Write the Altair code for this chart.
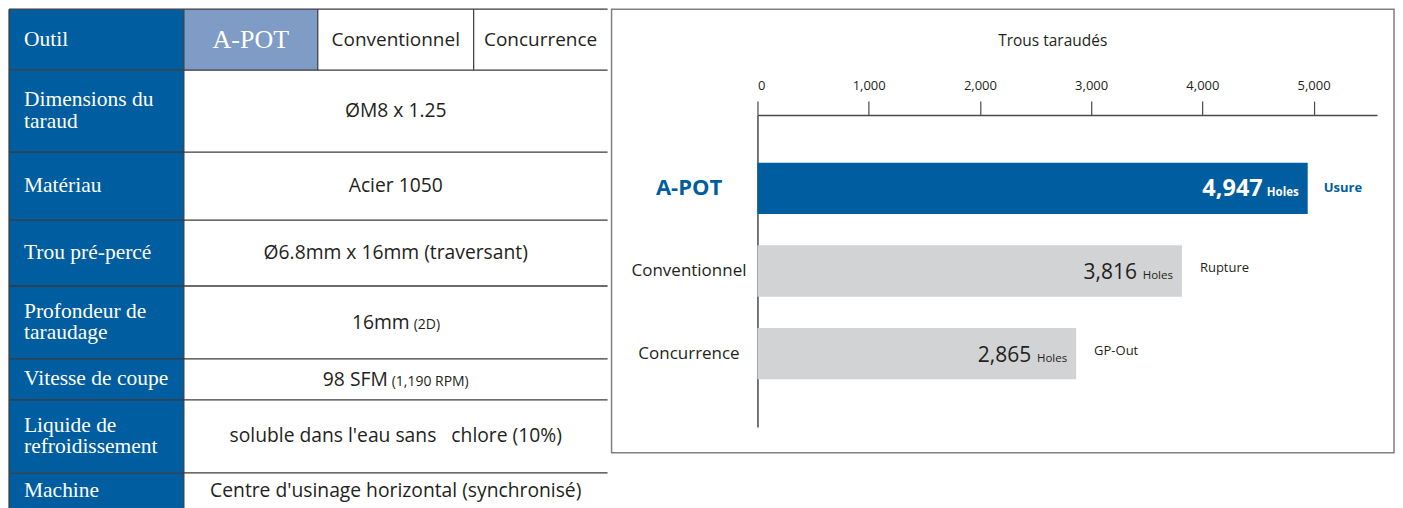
import altair as alt
import pandas as pd

# ---------------- data ----------------
ROW_LABELS = ["Outil", "Dimensions du\ntaraud", "Matériau", "Trou pré-percé",
              "Profondeur de\ntaraudage", "Vitesse de coupe",
              "Liquide de\nrefroidissement", "Machine"]
TOOLS = ["A-POT", "Conventionnel", "Concurrence"]
SPEC_VALUES = ["ØM8 x 1.25", "Acier 1050", "Ø6.8mm x 16mm (traversant)", "16mm",
               "98 SFM", "soluble dans l'eau sans \u00a0 chlore (10%)",
               "Centre d'usinage horizontal (synchronisé)"]
SPEC_NOTES = ["", "", "", "(2D)", "(1,190 RPM)", "", ""]
HOLES = [4947, 3816, 2865]
HOLE_UNIT = "Holes"
FAILURE_MODES = ["Usure", "Rupture", "GP-Out"]
X_TICKS = [0, 1000, 2000, 3000, 4000, 5000]
X_TITLE = "Trous taraudés"

# ---------------- layout / style ----------------
COL_EDGES = [0, 175, 309, 465, 599]
ROW_EDGES = [0, 61, 143, 211, 277, 350, 391, 464, 500]
TABLE_W, TABLE_H = 599, 500
NOTE_SPLIT = [None, None, None, 403, 381, None, None]
X_MAX = 5570
FRAME_TOP = 106          # distance from the bar plot's top to its outer frame
FRAME_RIGHT = 637
LABEL_LH = 21.5

BLUE = "#005da0"
LIGHT_BLUE = "#7f9cc6"
GRAY_BAR = "#d2d3d5"
LINE = "#3a3a3a"
INK = "#231f20"
AX = "#4a4a4a"
SERIF = "Liberation Serif"
SANS = "Open Sans"

# ---------------- table (left) ----------------
xs = alt.Scale(domain=[0, TABLE_W], nice=False, zero=False)
ys = alt.Scale(domain=[FRAME_TOP, TABLE_H], nice=False, zero=False, reverse=True)

rows = pd.DataFrame({
    "label": ROW_LABELS,
    "x0": COL_EDGES[0], "x1": COL_EDGES[1],
    "y0": ROW_EDGES[:-1], "y1": ROW_EDGES[1:],
})
rows["yc"] = (rows["y0"] + rows["y1"]) / 2
rows["yt"] = rows["yc"] - rows["label"].str.count("\n") * LABEL_LH / 2
rows["xl"] = 15

header = pd.DataFrame({
    "tool": TOOLS,
    "x0": COL_EDGES[1:4], "x1": COL_EDGES[2:5],
    "y0": ROW_EDGES[0], "y1": ROW_EDGES[1],
})
header["xc"] = (header["x0"] + header["x1"]) / 2
header["yc"] = (header["y0"] + header["y1"]) / 2

vals = pd.DataFrame({
    "value": SPEC_VALUES, "note": SPEC_NOTES,
    "y0": ROW_EDGES[1:-1], "y1": ROW_EDGES[2:],
})
vals["yc"] = (vals["y0"] + vals["y1"]) / 2
vals["xc"] = (COL_EDGES[1] + COL_EDGES[-1]) / 2
vals["split"] = [s if s is not None else -1 for s in NOTE_SPLIT]
plain = vals[vals["note"] == ""]
noted = vals[vals["note"] != ""]

hlines = pd.DataFrame({"x0": 0, "x1": TABLE_W, "y": ROW_EDGES[:-1]})
vlines = pd.DataFrame({
    "x": [0, COL_EDGES[1], COL_EDGES[2], COL_EDGES[3]],
    "y0": [0, 0, 0, 0],
    "y1": [TABLE_H, TABLE_H, ROW_EDGES[1], ROW_EDGES[1]],
})

X0 = alt.X("x0:Q", scale=xs, axis=None)
Y0 = alt.Y("y0:Q", scale=ys, axis=None)

blue_col = alt.Chart(rows).mark_rect(color=BLUE).encode(x=X0, x2="x1:Q", y=Y0, y2="y1:Q")
apot_cell = alt.Chart(header.iloc[[0]]).mark_rect(color=LIGHT_BLUE).encode(
    x=X0, x2="x1:Q", y=Y0, y2="y1:Q")
hrules = alt.Chart(hlines).mark_rule(color=LINE, strokeWidth=1.3).encode(
    x=X0, x2="x1:Q", y=alt.Y("y:Q", scale=ys, axis=None))
vrules = alt.Chart(vlines).mark_rule(color=LINE, strokeWidth=1.2).encode(
    x=alt.X("x:Q", scale=xs, axis=None), y=Y0, y2="y1:Q")

row_text = alt.Chart(rows).mark_text(
    font=SERIF, fontSize=21.5, color="white", align="left", baseline="middle",
    lineBreak="\n", lineHeight=LABEL_LH).encode(
    x=alt.X("xl:Q", scale=xs, axis=None), y=alt.Y("yt:Q", scale=ys, axis=None),
    text="label:N")

XC = alt.X("xc:Q", scale=xs, axis=None)
YC = alt.Y("yc:Q", scale=ys, axis=None)
head_apot = alt.Chart(header.iloc[[0]]).mark_text(
    font=SERIF, fontSize=26, color="white", baseline="middle").encode(x=XC, y=YC, text="tool:N")
head_other = alt.Chart(header.iloc[1:]).mark_text(
    font=SANS, fontSize=19, color=INK, baseline="middle").encode(x=XC, y=YC, text="tool:N")

val_plain = alt.Chart(plain).mark_text(
    font=SANS, fontSize=19.3, color=INK, baseline="middle").encode(x=XC, y=YC, text="value:N")
val_main = alt.Chart(noted).mark_text(
    font=SANS, fontSize=19.3, color=INK, baseline="alphabetic", align="right", dx=-2, dy=7).encode(
    x=alt.X("split:Q", scale=xs, axis=None), y=YC, text="value:N")
val_note = alt.Chart(noted).mark_text(
    font=SANS, fontSize=14, color=INK, baseline="alphabetic", align="left", dx=2, dy=7).encode(
    x=alt.X("split:Q", scale=xs, axis=None), y=YC, text="note:N")

table = alt.layer(blue_col, apot_cell, hrules, vrules, row_text, head_apot, head_other,
                  val_plain, val_main, val_note).properties(width=TABLE_W,
                                                            height=TABLE_H - FRAME_TOP)

# ---------------- bar chart (right) ----------------
bars_df = pd.DataFrame({"tool": TOOLS, "holes": HOLES, "mode": FAILURE_MODES, "unit": HOLE_UNIT})
is_apot = "datum.value == 'A-POT'"

X = alt.X("holes:Q", scale=alt.Scale(domain=[0, X_MAX], nice=False, zero=True),
          axis=alt.Axis(orient="top", values=X_TICKS, format=",d", grid=False,
                        tickSize=14, tickColor=AX, tickWidth=1.2,
                        domainColor=AX, domainWidth=1.5,
                        labelFont=SANS, labelFontSize=13, labelColor=INK, labelPadding=9,
                        title=X_TITLE, titleFont=SANS, titleFontSize=15.5,
                        titleFontWeight="normal", titleColor=INK,
                        titleX=295, titleY=-75, titleBaseline="middle", titleAlign="center"))
Y = alt.Y("tool:N", sort=TOOLS, scale=alt.Scale(paddingInner=0.38, paddingOuter=0.575),
          axis=alt.Axis(title=None, ticks=False, domainColor=AX, domainWidth=1.5,
                        labelFont=SANS, labelAlign="center", labelBaseline="middle",
                        labelPadding=69,
                        labelFontSize={"expr": f"{is_apot} ? 22 : 17"},
                        labelFontWeight={"expr": f"{is_apot} ? 'bold' : 'normal'"},
                        labelColor={"expr": f"{is_apot} ? '{BLUE}' : '{INK}'"}))

base = alt.Chart(bars_df).encode(x=X, y=Y)
apot_f = alt.datum.tool == "A-POT"
other_f = alt.datum.tool != "A-POT"

frame = alt.Chart(pd.DataFrame({"k": [0]})).mark_rect(
    fill="transparent", stroke="#808080", strokeWidth=1.5).encode(
    x=alt.value(-146), x2=alt.value(FRAME_RIGHT), y=alt.value(-FRAME_TOP), y2=alt.value(338))

bars = base.mark_bar().encode(
    color=alt.condition(apot_f, alt.value(BLUE), alt.value(GRAY_BAR)))

num_apot = base.transform_filter(apot_f).mark_text(
    align="right", baseline="alphabetic", dx=-45, dy=8, font=SANS, fontWeight="bold",
    fontSize=23.5, color="white").encode(text=alt.Text("holes:Q", format=",d"))
unit_apot = base.transform_filter(apot_f).mark_text(
    align="right", baseline="alphabetic", dx=-9, dy=8, font=SANS, fontWeight="bold",
    fontSize=11.5, color="white").encode(text="unit:N")
mode_apot = base.transform_filter(apot_f).mark_text(
    align="left", baseline="middle", dx=16, font=SANS, fontWeight="bold",
    fontSize=13, color=BLUE).encode(text="mode:N")

num_other = base.transform_filter(other_f).mark_text(
    align="right", baseline="alphabetic", dx=-45, dy=8, font=SANS,
    fontSize=21, color=INK).encode(text=alt.Text("holes:Q", format=",d"))
unit_other = base.transform_filter(other_f).mark_text(
    align="right", baseline="alphabetic", dx=-9, dy=8, font=SANS,
    fontSize=11.5, color=INK).encode(text="unit:N")
mode_other = base.transform_filter(other_f).mark_text(
    align="left", baseline="middle", dx=18, dy=-3, font=SANS,
    fontSize=13, color=INK).encode(text="mode:N")

bar_chart = alt.layer(frame, bars, num_apot, unit_apot, mode_apot,
                      num_other, unit_other, mode_other).properties(width=620, height=312)

chart = alt.hconcat(table, bar_chart, spacing=2, padding=0).configure_view(stroke=None)

chart.save("out.html", embed_options={"renderer": "svg", "actions": False})
